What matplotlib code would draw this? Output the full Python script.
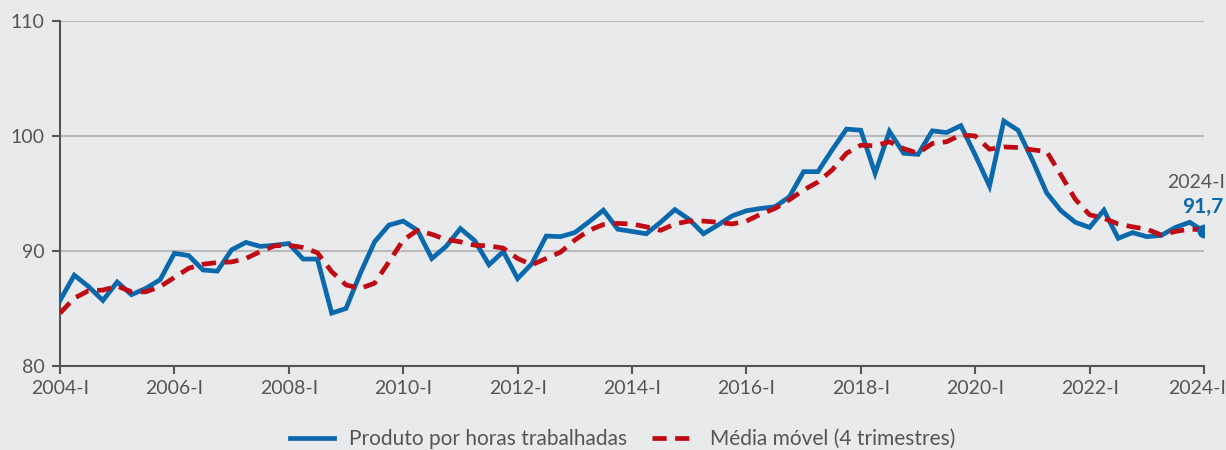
import matplotlib
matplotlib.use("Agg")
import matplotlib.pyplot as plt
import matplotlib.transforms as mtransforms
import numpy as np

plt.rcParams['font.family'] = ['Lato', 'DejaVu Sans']

# Quarterly data 2004-I .. 2024-I
produto = [
    85.7, 87.9, 86.9, 85.7,   # 2004
    87.3, 86.2, 86.75, 87.5,  # 2005
    89.8, 89.6, 88.35, 88.25, # 2006
    90.1, 90.75, 90.4, 90.5,  # 2007
    90.65, 89.3, 89.3, 84.6,  # 2008
    85.0, 88.05, 90.8, 92.25, # 2009
    92.6, 91.8, 89.35, 90.4,  # 2010
    91.95, 90.9, 88.8, 89.95, # 2011
    87.6, 88.9, 91.3, 91.25,  # 2012
    91.6, 92.55, 93.55, 91.9, # 2013
    91.7, 91.5, 92.5, 93.6,   # 2014
    92.75, 91.5, 92.25, 93.05,# 2015
    93.5, 93.7, 93.85, 94.7,  # 2016
    96.9, 96.9, 98.8, 100.6,  # 2017
    100.5, 96.75, 100.4, 98.5,# 2018
    98.4, 100.45, 100.3, 100.9,# 2019
    98.35, 95.65, 101.3, 100.5,# 2020
    97.9, 95.05, 93.5, 92.5,  # 2021
    92.05, 93.55, 91.1, 91.6, # 2022
    91.25, 91.35, 92.05, 92.5,# 2023
    91.7,                     # 2024-I
]
media_movel = [
    84.6, 85.9, 86.55, 86.6,
    86.95, 86.45, 86.45, 86.9,
    87.7, 88.5, 88.85, 89.0,
    89.05, 89.35, 89.95, 90.45,
    90.5, 90.3, 89.85, 88.2,
    87.05, 86.75, 87.2, 89.05,
    90.95, 91.8, 91.45, 91.0,
    90.8, 90.5, 90.45, 90.25,
    89.35, 88.8, 89.35, 89.9,
    90.95, 91.8, 92.3, 92.4,
    92.35, 92.1, 91.8, 92.35,
    92.6, 92.6, 92.5, 92.35,
    92.6, 93.2, 93.7, 94.45,
    95.3, 96.0, 97.05, 98.5,
    99.2, 99.15, 99.5, 98.9,
    98.5, 99.35, 99.5, 100.1,
    100.0, 98.85, 99.05, 99.0,
    98.8, 98.65, 96.6, 94.5,
    93.15, 92.85, 92.35, 92.1,
    91.9, 91.4, 91.7, 91.9,
    91.85,
]
tick_labels = ["2004-I", "2006-I", "2008-I", "2010-I", "2012-I",
               "2014-I", "2016-I", "2018-I", "2020-I", "2022-I", "2024-I"]
y_ticks = [80, 90, 100, 110]
label_last_period = "2024-I"
label_last_value = "91,7"
legend_labels = ["Produto por horas trabalhadas", "Média móvel (4 trimestres)"]

BG = "#E9EAEC"
BLUE = "#0A69AD"
RED = "#C00A14"
TXT = "#555555"

x = np.arange(len(produto))

fig = plt.figure(figsize=(12.26, 4.5), dpi=100, facecolor=BG)
ax = fig.add_axes([60/1226, 1-366/450, (1204-60)/1226, (366-21)/450])
ax.set_facecolor(BG)

for yv in y_ticks[1:]:
    ax.axhline(yv, color="#B9BABC", lw=1.5, zorder=1)

l1, = ax.plot(x, produto, color=BLUE, lw=3.4, zorder=3, solid_joinstyle='miter',
              label=legend_labels[0])
l2, = ax.plot(x, media_movel, color=RED, lw=3.4, zorder=4, dashes=(3.0, 1.8),
              label=legend_labels[1])
ax.plot(x[-1], produto[-1], 'o', color=BLUE, ms=9, zorder=5)

ax.set_xlim(0, len(produto) - 1)
ax.set_ylim(80, 110)
ax.set_xticks(x[::8])
ax.set_xticklabels(tick_labels)
ax.set_yticks(y_ticks)

for s in ["top", "right"]:
    ax.spines[s].set_visible(False)
for s in ["left", "bottom"]:
    ax.spines[s].set_color("#555555")
    ax.spines[s].set_linewidth(1.5)
ax.tick_params(axis='both', colors="#555555", labelcolor=TXT, labelsize=14,
               width=1.5, length=6)
ax.tick_params(axis='y', pad=5)
ax.tick_params(axis='x', pad=4)

# nudge the last x tick label slightly left so it stays inside the figure
last_lbl = ax.get_xticklabels()[-1]
last_lbl.set_transform(last_lbl.get_transform() +
                       mtransforms.ScaledTranslation(-7/100, 0, fig.dpi_scale_trans))

ax.annotate(label_last_period, xy=(x[-1], produto[-1]), xytext=(21, 49),
            textcoords='offset pixels', ha='right', va='center',
            color=TXT, fontsize=14, annotation_clip=False)
ax.annotate(label_last_value, xy=(x[-1], produto[-1]), xytext=(-1, 24),
            textcoords='offset pixels', ha='center', va='center',
            color=BLUE, fontsize=15, fontweight='bold', annotation_clip=False)

leg = fig.legend(handles=[l1, l2], loc='center',
                 bbox_to_anchor=(0.5 + 10/1226, 1-439/450),
                 ncol=2, frameon=False, fontsize=15, handlelength=2.1,
                 handletextpad=0.7, columnspacing=1.2, labelcolor=TXT)

fig.savefig("out.png", dpi=100, facecolor=BG)
